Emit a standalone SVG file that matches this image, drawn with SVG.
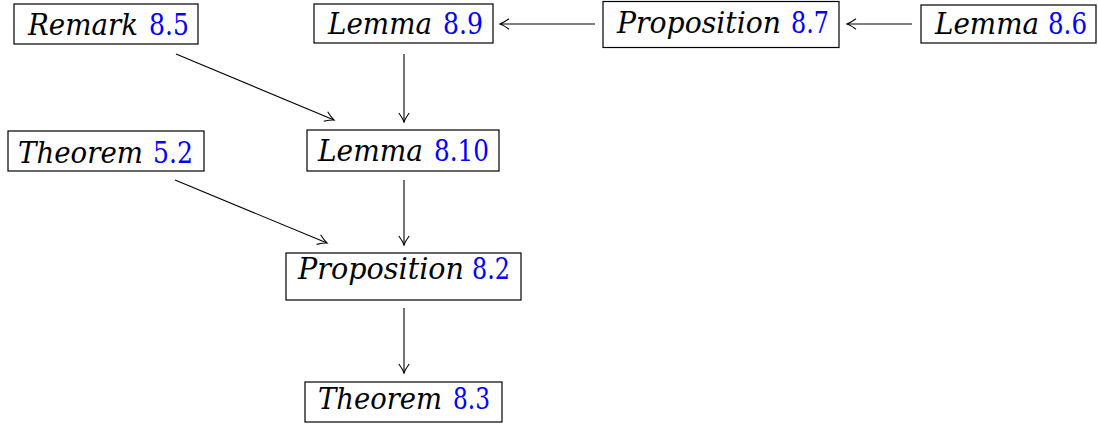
<svg xmlns="http://www.w3.org/2000/svg" width="1098" height="424" viewBox="0 0 1098 424">
<style>
.box{fill:#fff;stroke:#000;stroke-width:1.2}
.w{font-style:italic;font-size:30px;fill:#000}
.n{font-size:30px;fill:#0000ff}
.e{fill:none;stroke:#000;stroke-width:1.1}
</style>
<defs>
<marker id="ah" markerUnits="userSpaceOnUse" markerWidth="16" markerHeight="16" viewBox="-11 -8 13 16" refX="0" refY="0" orient="auto">
<path d="M-9,-5.2 Q-3.5,-1.2 0,0 Q-3.5,1.2 -9,5.2" fill="none" stroke="#000" stroke-width="1.1"/>
</marker>
</defs>
<g id="connectors">
<line class="e" x1="176" y1="54" x2="334" y2="120" marker-end="url(#ah)"/>
<line class="e" x1="404" y1="54" x2="404" y2="122" marker-end="url(#ah)"/>
<line class="e" x1="595" y1="24" x2="500" y2="24" marker-end="url(#ah)"/>
<line class="e" x1="912" y1="24" x2="847" y2="24" marker-end="url(#ah)"/>
<line class="e" x1="175" y1="180" x2="327" y2="243" marker-end="url(#ah)"/>
<line class="e" x1="404" y1="180" x2="404" y2="245" marker-end="url(#ah)"/>
<line class="e" x1="404" y1="308" x2="404" y2="373" marker-end="url(#ah)"/>
</g>
<g font-family="DejaVu Serif, serif">
<g id="remark85">
<rect class="box" x="14" y="4" width="184" height="40"/>
<text class="w" x="28" y="35" textLength="110" lengthAdjust="spacingAndGlyphs">Remark</text>
<text class="n" x="149" y="35" textLength="40" lengthAdjust="spacingAndGlyphs">8.5</text>
</g>
<g id="lemma89">
<rect class="box" x="314" y="4" width="179" height="39"/>
<text class="w" x="328" y="34" textLength="104" lengthAdjust="spacingAndGlyphs">Lemma</text>
<text class="n" x="443" y="34" textLength="40" lengthAdjust="spacingAndGlyphs">8.9</text>
</g>
<g id="prop87">
<rect class="box" x="603" y="1.5" width="236" height="46"/>
<text class="w" x="617" y="33" textLength="164" lengthAdjust="spacingAndGlyphs">Proposition</text>
<text class="n" x="791" y="33" textLength="38" lengthAdjust="spacingAndGlyphs">8.7</text>
</g>
<g id="lemma86">
<rect class="box" x="921" y="5" width="175" height="38"/>
<text class="w" x="935" y="34" textLength="104" lengthAdjust="spacingAndGlyphs">Lemma</text>
<text class="n" x="1048" y="34" textLength="39" lengthAdjust="spacingAndGlyphs">8.6</text>
</g>
<g id="theorem52">
<rect class="box" x="8" y="131" width="196" height="40"/>
<text class="w" x="18" y="163" textLength="125" lengthAdjust="spacingAndGlyphs">Theorem</text>
<text class="n" x="153" y="163" textLength="40" lengthAdjust="spacingAndGlyphs">5.2</text>
</g>
<g id="lemma810">
<rect class="box" x="307" y="130" width="192" height="41"/>
<text class="w" x="318" y="161" textLength="105" lengthAdjust="spacingAndGlyphs">Lemma</text>
<text class="n" x="434" y="161" textLength="55" lengthAdjust="spacingAndGlyphs">8.10</text>
</g>
<g id="prop82">
<rect class="box" x="286" y="253" width="235" height="47"/>
<text class="w" x="298" y="279" textLength="166" lengthAdjust="spacingAndGlyphs">Proposition</text>
<text class="n" x="472" y="279" textLength="38" lengthAdjust="spacingAndGlyphs">8.2</text>
</g>
<g id="theorem83">
<rect class="box" x="305" y="382" width="197" height="40"/>
<text class="w" x="318" y="409" textLength="124" lengthAdjust="spacingAndGlyphs">Theorem</text>
<text class="n" x="453" y="409" textLength="37" lengthAdjust="spacingAndGlyphs">8.3</text>
</g>
</g>
</svg>
